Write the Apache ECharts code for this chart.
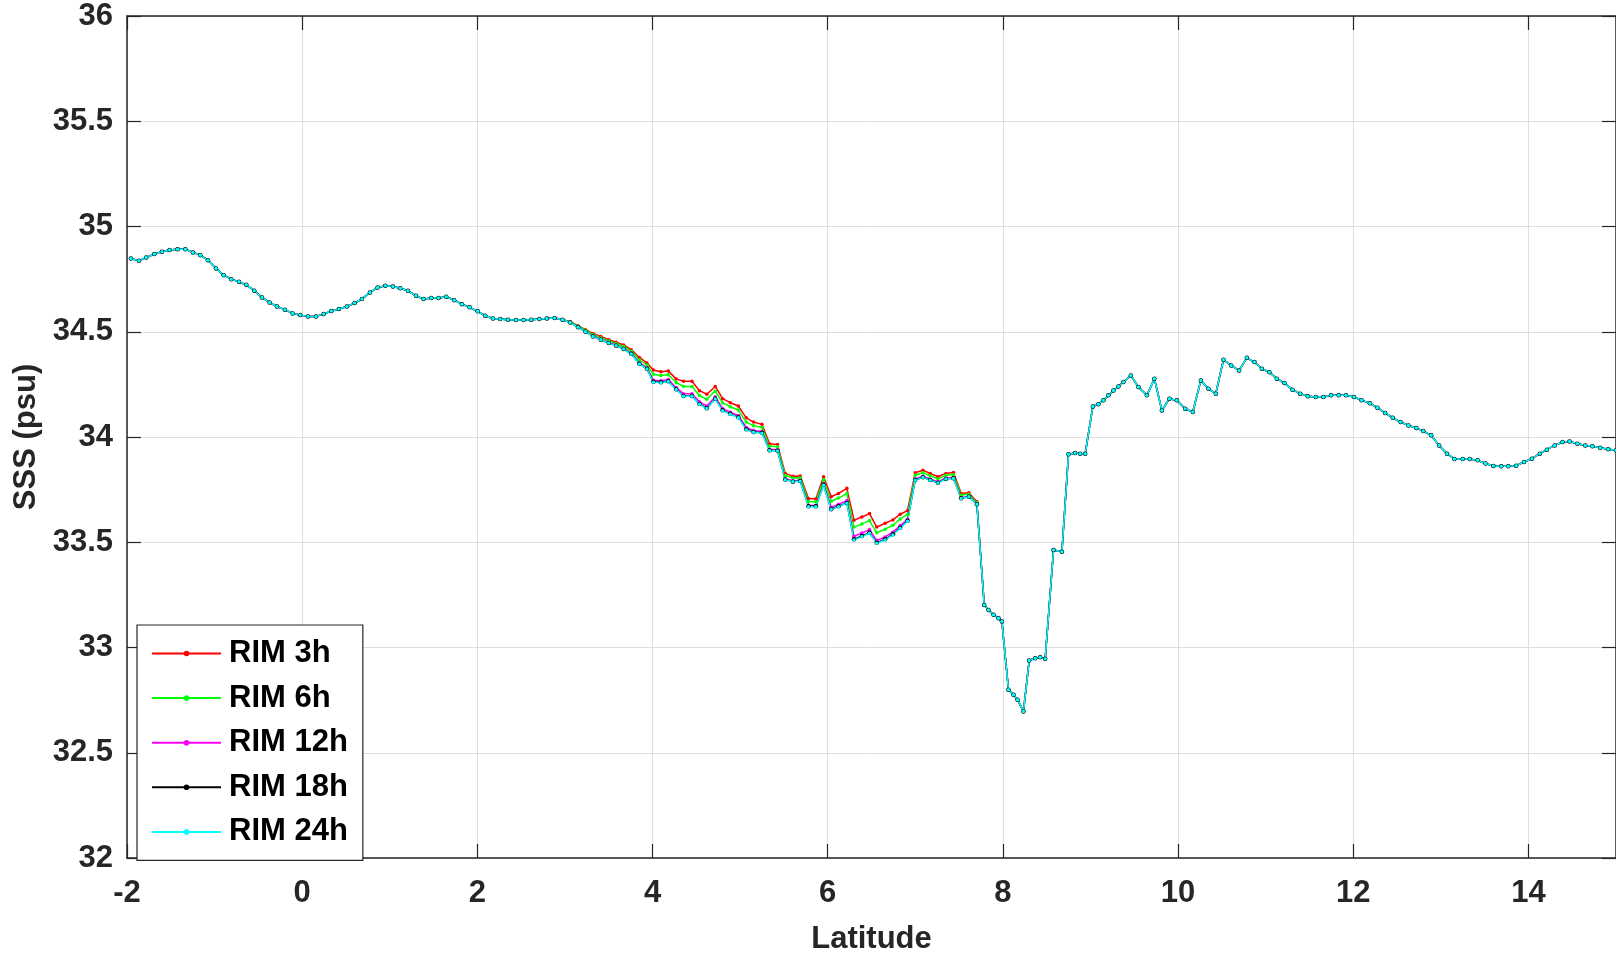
<!DOCTYPE html>
<html><head><meta charset="utf-8">
<script src="https://cdn.jsdelivr.net/npm/echarts@6/dist/echarts.min.js"></script>
<style>html,body{margin:0;padding:0;background:#fff}#c{width:1616px;height:953px}</style>
</head><body><div id="c"></div><script>
// ---------------- DATA ----------------
const seriesNames = ['RIM 3h', 'RIM 6h', 'RIM 12h', 'RIM 18h', 'RIM 24h'];
const xTicks = [-2, 0, 2, 4, 6, 8, 10, 12, 14];
const yTicks = [32, 32.5, 33, 33.5, 34, 34.5, 35, 35.5, 36];

// common part (all series identical), south end
const latHead = [-1.955,-1.863,-1.78,-1.688,-1.60,-1.513,-1.422,-1.334,-1.247,-1.163,-1.076,-0.984,-0.897,-0.81,-0.722,-0.638,-0.547,-0.459,-0.372,-0.288,-0.197,-0.109,-0.022,0.066,0.157,0.245,0.332,0.42,0.511,0.599,0.682,0.774,0.861,0.949,1.036,1.12,1.207,1.299,1.386,1.474,1.557,1.645,1.736,1.824,1.911,2.003,2.09,2.178,2.261,2.349,2.44,2.528,2.615,2.707,2.794,2.882,2.973];
const sssHead = [34.848,34.837,34.853,34.869,34.880,34.888,34.892,34.892,34.877,34.864,34.840,34.801,34.769,34.750,34.737,34.723,34.695,34.663,34.639,34.620,34.605,34.587,34.579,34.573,34.573,34.584,34.598,34.608,34.620,34.636,34.655,34.687,34.710,34.718,34.715,34.707,34.695,34.671,34.655,34.660,34.660,34.666,34.650,34.631,34.616,34.597,34.576,34.563,34.560,34.557,34.556,34.556,34.557,34.560,34.563,34.565,34.557];

// part where the runs differ
const latMid = [3.06,3.15,3.235,3.32,3.41,3.50,3.585,3.67,3.757,3.85,3.936,4.01,4.096,4.18,4.27,4.354,4.45,4.536,4.62,4.716,4.80,4.887,4.98,5.07,5.153,5.249,5.336,5.427,5.515,5.603,5.686,5.781,5.865,5.952,6.04,6.123,6.219,6.30,6.39,6.477,6.56,6.656,6.744,6.827,6.911,6.999,7.087,7.17,7.258,7.349,7.436,7.524,7.612,7.703];
const sss3h  = [34.548,34.529,34.510,34.492,34.478,34.462,34.450,34.437,34.415,34.378,34.352,34.318,34.310,34.313,34.276,34.265,34.265,34.220,34.203,34.240,34.182,34.163,34.147,34.091,34.071,34.060,33.968,33.964,33.827,33.814,33.815,33.708,33.705,33.811,33.716,33.732,33.756,33.605,33.620,33.636,33.572,33.590,33.606,33.633,33.650,33.830,33.842,33.827,33.811,33.827,33.831,33.732,33.735,33.692];
const sss6h  = [34.547,34.526,34.507,34.487,34.472,34.456,34.444,34.430,34.408,34.367,34.342,34.298,34.292,34.296,34.259,34.240,34.240,34.197,34.179,34.219,34.162,34.144,34.128,34.071,34.054,34.045,33.957,33.954,33.817,33.805,33.806,33.694,33.692,33.797,33.695,33.710,33.731,33.572,33.587,33.603,33.545,33.562,33.581,33.610,33.632,33.818,33.830,33.816,33.801,33.818,33.821,33.724,33.728,33.688];
const sss12h = [34.545,34.522,34.502,34.481,34.465,34.449,34.437,34.421,34.398,34.353,34.328,34.270,34.267,34.273,34.235,34.206,34.206,34.167,34.147,34.191,34.135,34.118,34.102,34.045,34.031,34.026,33.942,33.939,33.802,33.792,33.795,33.676,33.675,33.778,33.666,33.680,33.698,33.528,33.544,33.560,33.509,33.525,33.548,33.578,33.609,33.801,33.814,33.801,33.787,33.805,33.808,33.712,33.719,33.683];
const sss18h = [34.544,34.521,34.500,34.478,34.462,34.446,34.434,34.418,34.395,34.348,34.324,34.262,34.260,34.265,34.227,34.195,34.195,34.157,34.137,34.182,34.127,34.110,34.094,34.037,34.024,34.020,33.937,33.935,33.798,33.788,33.791,33.671,33.671,33.773,33.657,33.671,33.687,33.514,33.530,33.546,33.498,33.514,33.538,33.569,33.602,33.796,33.809,33.796,33.783,33.801,33.804,33.709,33.716,33.681];
const sss24h = [34.544,34.521,34.500,34.478,34.462,34.446,34.434,34.418,34.394,34.347,34.323,34.260,34.258,34.264,34.226,34.193,34.193,34.155,34.135,34.180,34.125,34.108,34.092,34.035,34.022,34.018,33.936,33.934,33.797,33.787,33.790,33.669,33.669,33.771,33.655,33.669,33.685,33.511,33.527,33.543,33.495,33.511,33.535,33.566,33.600,33.795,33.808,33.795,33.782,33.800,33.803,33.708,33.716,33.681];

// common part, north end
const latTail = [7.787,7.836,7.893,7.95,7.989,8.064,8.121,8.167,8.235,8.30,8.369,8.426,8.483,8.578,8.674,8.749,8.825,8.882,8.94,9.027,9.09,9.148,9.205,9.262,9.319,9.376,9.461,9.548,9.644,9.730,9.815,9.902,9.986,10.081,10.168,10.260,10.347,10.431,10.518,10.606,10.697,10.785,10.872,10.956,11.043,11.127,11.214,11.306,11.394,11.481,11.572,11.659,11.747,11.834,11.918,12.009,12.095,12.19,12.276,12.364,12.45,12.54,12.63,12.72,12.80,12.89,12.98,13.07,13.155,13.25,13.33,13.42,13.51,13.60,13.69,13.77,13.86,13.95,14.04,14.13,14.21,14.30,14.39,14.47,14.56,14.65,14.73,14.82,14.91,15.0];
const sssTail = [33.202,33.178,33.155,33.139,33.123,32.799,32.776,32.752,32.696,32.938,32.949,32.954,32.946,33.463,33.455,33.918,33.924,33.921,33.921,34.145,34.156,34.174,34.198,34.221,34.240,34.261,34.292,34.237,34.198,34.277,34.126,34.182,34.174,34.134,34.119,34.269,34.229,34.206,34.367,34.340,34.316,34.376,34.356,34.324,34.308,34.277,34.256,34.225,34.206,34.194,34.190,34.190,34.198,34.198,34.198,34.190,34.174,34.160,34.139,34.114,34.092,34.071,34.055,34.043,34.028,34.008,33.960,33.921,33.896,33.896,33.896,33.889,33.874,33.862,33.861,33.861,33.864,33.881,33.897,33.921,33.940,33.960,33.976,33.979,33.968,33.960,33.956,33.949,33.942,33.937];

const midValues = [sss3h, sss6h, sss12h, sss18h, sss24h];

// ---------------- STYLE ----------------
const colors = ['#ff0000', '#00ff00', '#ff00ff', '#000000', '#00ffff'];
const symbolSizes = [3.5, 3.5, 3.5, 4.5, 3.5];
const FONT = '"Liberation Sans", Arial, Helvetica, sans-serif';
const AX = '#262626';

function pairs(lats, vals) { return lats.map((x, i) => [x, vals[i]]); }

const series = seriesNames.map((name, i) => ({
  name: name,
  type: 'line',
  xAxisIndex: 0, yAxisIndex: 0,
  data: pairs(latHead, sssHead).concat(pairs(latMid, midValues[i]), pairs(latTail, sssTail)),
  symbol: 'circle',
  symbolSize: symbolSizes[i],
  showAllSymbol: true,
  lineStyle: { color: colors[i], width: 1.5 },
  itemStyle: { color: colors[i] },
  emphasis: { disabled: true },
  animation: false
}));

const labelStyle = { fontFamily: FONT, fontWeight: 'bold', fontSize: 31, color: AX };

const option = {
  animation: false,
  backgroundColor: '#fff',
  grid: { left: 127, right: 0, top: 16, bottom: 95, containLabel: false, outerBoundsMode: 'none' },
  legend: {
    orient: 'vertical', left: 137, top: 625,
    backgroundColor: '#fff', borderColor: AX, borderWidth: 1.2, borderRadius: 0,
    padding: [13, 15, 13, 14],
    itemGap: 13.6, itemWidth: 69, itemHeight: 7,
    textStyle: { fontFamily: FONT, fontWeight: 'bold', fontSize: 31, color: '#000', lineHeight: 30, padding: [0, 0, 0, 3] },
    data: seriesNames, z: 10
  },
  xAxis: [
    { type: 'value', position: 'bottom', min: xTicks[0], max: 15, interval: 2,
      name: 'Latitude', nameLocation: 'middle', nameGap: 66,
      nameTextStyle: labelStyle,
      axisLine: { show: true, onZero: false, lineStyle: { color: AX, width: 1.5 } },
      axisTick: { show: true, inside: true, length: 14, lineStyle: { color: AX, width: 1.2 } },
      axisLabel: Object.assign({ margin: 20, showMaxLabel: false }, labelStyle),
      splitLine: { show: true, lineStyle: { color: '#dedede', width: 1 } } },
    { type: 'value', position: 'top', min: xTicks[0], max: 15, interval: 2,
      axisLine: { show: true, onZero: false, lineStyle: { color: AX, width: 1.5 } },
      axisTick: { show: true, inside: true, length: 14, lineStyle: { color: AX, width: 1.2 } },
      axisLabel: { show: false }, splitLine: { show: false } }
  ],
  yAxis: [
    { type: 'value', position: 'left', min: yTicks[0], max: yTicks[yTicks.length - 1], interval: 0.5,
      name: 'SSS (psu)', nameLocation: 'middle', nameGap: 79,
      nameTextStyle: labelStyle,
      axisLine: { show: true, onZero: false, lineStyle: { color: AX, width: 1.5 } },
      axisTick: { show: true, inside: true, length: 14, lineStyle: { color: AX, width: 1.2 } },
      axisLabel: Object.assign({ margin: 14 }, labelStyle),
      splitLine: { show: true, lineStyle: { color: '#dedede', width: 1 } } },
    { type: 'value', position: 'right', min: yTicks[0], max: yTicks[yTicks.length - 1], interval: 0.5,
      axisLine: { show: true, onZero: false, lineStyle: { color: AX, width: 1.5 } },
      axisTick: { show: true, inside: true, length: 14, lineStyle: { color: AX, width: 1.2 } },
      axisLabel: { show: false }, splitLine: { show: false } }
  ],
  series: series
};

const chart = echarts.init(document.getElementById('c'), null, { renderer: 'canvas' });
chart.setOption(option);
</script></body></html>
